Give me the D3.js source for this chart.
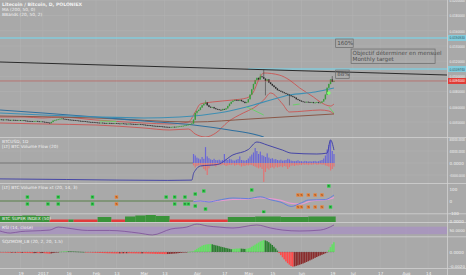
<!DOCTYPE html>
<html><head><meta charset="utf-8">
<script src="https://cdn.jsdelivr.net/npm/d3@7"></script>
<style>
body{margin:0;background:#a9a9a9;overflow:hidden}
svg{display:block;font-family:"DejaVu Sans",sans-serif}
</style></head><body>
<svg id="chart" width="466" height="275"></svg>
<script>
const parse = d3.timeParse("%Y-%m-%d");
const firstDay = "2016-12-07";

// LTC/BTC daily closes
const closeDec = [0.00432,0.00430,0.00428,0.00431,0.00429,0.00426,0.00424,0.00427,0.00425,0.00423,0.00420,0.00422,0.00419,0.00421,0.00418,0.00415,0.00412,0.00410,0.00408,0.00405,0.00409,0.00411,0.00407,0.00404,0.00406];
const closeJan = [0.00402,0.00398,0.00395,0.00390,0.00385,0.00400,0.00418,0.00425,0.00430,0.00436,0.00442,0.00445,0.00440,0.00436,0.00432,0.00430,0.00428,0.00425,0.00422,0.00420,0.00418,0.00415,0.00412,0.00410,0.00408,0.00405,0.00403,0.00400,0.00398,0.00396,0.00394];
const closeFeb = [0.00392,0.00390,0.00388,0.00390,0.00387,0.00385,0.00383,0.00386,0.00384,0.00382,0.00380,0.00383,0.00381,0.00379,0.00377,0.00380,0.00378,0.00376,0.00374,0.00377,0.00375,0.00373,0.00371,0.00369,0.00367,0.00370,0.00368,0.00366];
const closeMar = [0.00363,0.00360,0.00357,0.00355,0.00352,0.00350,0.00348,0.00346,0.00344,0.00342,0.00340,0.00338,0.00336,0.00335,0.00333,0.00332,0.00334,0.00336,0.00335,0.00337,0.00340,0.00343,0.00346,0.00350,0.00355,0.00360,0.00366,0.00372,0.00380,0.00430,0.00520];
const closeApr = [0.00545,0.00560,0.00590,0.00620,0.00640,0.00655,0.00620,0.00600,0.00590,0.00595,0.00580,0.00570,0.00565,0.00560,0.00555,0.00570,0.00565,0.00580,0.00610,0.00640,0.00665,0.00680,0.00690,0.00685,0.00680,0.00690,0.00675,0.00665,0.00650,0.00660];
const closeMay = [0.00700,0.00760,0.00830,0.00900,0.00950,0.00980,0.00960,0.01000,0.00990,0.00970,0.00940,0.00960,0.00920,0.00900,0.00880,0.00860,0.00840,0.00820,0.00810,0.00800,0.00790,0.00780,0.00770,0.00760,0.00750,0.00740,0.00730,0.00720,0.00700,0.00690,0.00680];
const closeJun = [0.00670,0.00665,0.00660,0.00665,0.00660,0.00655,0.00660,0.00650,0.00655,0.00660,0.00650,0.00655,0.00670,0.00700,0.00760,0.00850,0.00900,0.00960,0.00930,0.00940];
const wickHigh = [["2017-04-06",0.00680],["2017-05-08",0.01030],["2017-05-10",0.01084],["2017-06-19",0.01000]];
const wickLow = [["2017-04-01",0.00500],["2017-05-11",0.00755],["2017-05-25",0.00624]];

// overlays on the price pane
const maLow = [["2016-12-07",0.005579],["2017-01-01",0.005184],["2017-02-01",0.004658],["2017-03-01",0.004132],["2017-03-30",0.003605],["2017-04-20",0.002947],["2017-05-06",0.00229],["2017-05-10",0.002026]];
const maMid = [["2016-12-07",0.005184],["2017-01-01",0.004921],["2017-02-01",0.004658],["2017-03-01",0.004526],["2017-03-22",0.004658],["2017-03-30",0.004789],["2017-04-09",0.005053],["2017-04-20",0.005447],["2017-05-04",0.006237],["2017-05-14",0.006895],["2017-05-25",0.007553],["2017-06-09",0.007947],["2017-06-20",0.008474]];
const maBrown = [["2016-12-07",0.004789],["2017-02-01",0.004526],["2017-03-30",0.004000],["2017-05-02",0.004395],["2017-05-31",0.004789],["2017-06-20",0.005053]];
const bbUpper = [["2016-12-07",0.004658],["2016-12-21",0.004658],["2017-01-01",0.004526],["2017-01-11",0.004658],["2017-02-01",0.004263],["2017-03-01",0.003868],["2017-03-16",0.003737],["2017-03-27",0.004000],["2017-03-31",0.005316],["2017-04-03",0.006368],["2017-04-10",0.006632],["2017-04-22",0.006895],["2017-04-30",0.007158],["2017-05-04",0.007947],["2017-05-07",0.009526],["2017-05-10",0.010447],["2017-05-19",0.010184],["2017-05-25",0.009526],["2017-05-31",0.008474],["2017-06-08",0.007289],["2017-06-12",0.006632],["2017-06-18",0.006105],["2017-06-20",0.006368]];
const bbLower = [["2016-12-07",0.003868],["2017-01-01",0.003737],["2017-02-01",0.003605],["2017-03-01",0.003211],["2017-03-16",0.002947],["2017-03-27",0.003079],["2017-03-31",0.002421],["2017-04-06",0.002026],["2017-04-12",0.002553],["2017-04-19",0.004000],["2017-04-28",0.005184],["2017-05-04",0.005842],["2017-05-10",0.006895],["2017-05-14",0.007816],["2017-05-21",0.006368],["2017-05-25",0.005316],["2017-06-03",0.005447],["2017-06-12",0.005579],["2017-06-17",0.005447],["2017-06-20",0.005053]];
const greenStops = [
  [["2017-02-03",0.004132],["2017-02-13",0.004066]],
  [["2017-04-30",0.005974],["2017-05-04",0.005579],["2017-05-10",0.004921]],
  [["2017-05-27",0.006237],["2017-05-31",0.006368]],
  [["2017-06-17",0.005974],["2017-06-20",0.005184]]];
const signalDot = ["2017-06-17",0.007816];

// drawings
const target160 = 0.015053;
const target88 = 0.010974;
const target88From = "2017-05-01";
const trendLine = [["2016-12-07",0.011895],["2017-08-25",0.010184]];

// Volume flow (thousands)
const flowFrom = "2017-03-30";
const flowBuy = [30,25,18,15,12,20,14,53,22,16,12,10,14,10,9,11,8,10,30,12,10,14,12,9,8,11,13,22,10,9,8,10,
  15,22,28,35,50,40,30,38,26,24,20,32,18,14,16,12,13,10,9,11,8,9,10,14,12,8,7,6,7,9,6,
  6,5,7,6,5,6,5,6,7,5,6,8,10,15,25,45,60,75,40,30];
const flowSell = [-8,-15,-10,-8,-6,-12,-20,-25,-40,-18,-10,-8,-9,-12,-7,-6,-8,-5,-7,-10,-8,-6,-7,-5,-9,-7,-6,-8,-12,-9,-10,-7,
  -8,-6,-7,-10,-12,-15,-18,-14,-20,-63,-30,-18,-22,-16,-14,-18,-12,-15,-13,-11,-14,-10,-12,-20,-14,-9,-8,-10,-7,-8,-6,
  -7,-5,-6,-5,-7,-5,-6,-5,-4,-6,-5,-4,-6,-5,-8,-10,-12,-25,-20,-12];
const flowLine = [["2016-12-07",-53],["2017-01-15",-55],["2017-02-15",-57],["2017-03-15",-58],["2017-03-29",-57],["2017-03-30",-35],["2017-03-31",-25],["2017-04-03",-10],["2017-04-13",-5],["2017-04-22",27],["2017-05-01",45],["2017-05-06",70],["2017-05-12",60],["2017-05-21",43],["2017-05-26",33],["2017-06-10",30],["2017-06-16",33],["2017-06-18",77],["2017-06-20",43]];

// Volume flow oscillator
const oscFast = [["2017-03-30",-5],["2017-04-03",0],["2017-04-08",-8],["2017-04-13",5],["2017-04-22",25],["2017-05-01",20],["2017-05-08",35],["2017-05-14",10],["2017-05-20",-10],["2017-05-26",-45],["2017-06-01",-15],["2017-06-05",8],["2017-06-10",10],["2017-06-15",12],["2017-06-18",30],["2017-06-20",50]];
const oscSlow = [["2017-03-30",0],["2017-04-03",-2],["2017-04-08",-4],["2017-04-13",0],["2017-04-22",12],["2017-05-01",18],["2017-05-08",25],["2017-05-14",20],["2017-05-20",5],["2017-05-26",-20],["2017-06-01",-25],["2017-06-05",-5],["2017-06-10",5],["2017-06-15",10],["2017-06-18",18],["2017-06-20",30]];
const oscSignals = [["2016-12-23",33,"B"],["2016-12-23",-25,"B"],["2017-01-04",-25,"B"],["2017-01-10",33,"B"],["2017-01-10",-25,"B"],["2017-01-30",33,"B"],["2017-01-30",-25,"B"],["2017-02-13",33,"S"],["2017-02-13",-25,"S"],["2017-03-14",33,"B"],["2017-03-19",33,"B"],["2017-03-19",-25,"B"],["2017-03-25",33,"B"],["2017-03-25",-25,"B"],["2017-03-27",-25,"B"],["2017-03-31",58,"B"],["2017-03-31",-42,"B"],["2017-04-05",83,"B"],["2017-04-06",-67,"B"],["2017-05-03",92,"B"],["2017-05-10",-92,"B"],
  ["2017-05-30",50,"S"],["2017-06-01",50,"S"],["2017-06-05",50,"S"],["2017-06-09",50,"S"],["2017-06-13",50,"S"],
  ["2017-05-30",-50,"S"],["2017-06-01",-50,"S"],["2017-06-05",-50,"S"],["2017-06-09",-50,"S"],["2017-06-13",-50,"S"],
  ["2017-06-17",125,"B"],["2017-06-18",-50,"B"]];

// BTC super index (step values, sign = colour)
const superIndex = [["2016-12-07",6],["2016-12-20",6.5],["2016-12-28",6],["2017-01-05",-2.5],["2017-01-16",2.5],["2017-01-19",-2.5],["2017-02-02",5],["2017-02-10",-2.5],["2017-02-18",5.5],["2017-02-24",6.5],["2017-03-02",7],["2017-03-08",6],["2017-03-16",-2.5],["2017-04-19",5],["2017-05-05",5.5],["2017-05-20",5],["2017-06-05",5.5],["2017-06-21",5.5]];

// RSI
const rsi = [["2016-12-07",47],["2016-12-13",36],["2016-12-19",44],["2016-12-25",47],["2017-01-05",52],["2017-01-10",68],["2017-01-15",63],["2017-01-27",50],["2017-02-09",50],["2017-02-26",36],["2017-03-06",26],["2017-03-17",58],["2017-03-26",68],["2017-04-01",84],["2017-04-07",74],["2017-04-14",68],["2017-04-22",63],["2017-05-06",79],["2017-05-14",63],["2017-05-21",52],["2017-05-31",47],["2017-06-12",52],["2017-06-20",79]];

// Squeeze momentum, units of 0.0001
const sqzDec = [-0.5,-0.6,-0.7,-0.8,-0.9,-1,-1.1,-1,-1,-0.9,-1.1,-1.2,-1.3,-1.2,-1.3,-1.4,-1.5,-1.5,-1.6,-1.7,-1.6,-1.5,-1.6,-1.7,-1.6];
const sqzJan = [-1.5,-1.8,-2,-2.2,-2.4,-2,-1.5,-1,-0.6,-0.3,0.2,0.5,0.8,1,1.1,1,0.9,0.8,0.7,0.6,0.5,0.4,0.3,0.2,0.1,-0.1,-0.3,-0.5,-0.7,-0.9,-1];
const sqzFeb = [-1.1,-1.2,-1.3,-1.4,-1.5,-1.6,-1.7,-1.8,-1.8,-1.9,-2,-2,-2.1,-2.1,-2,-2,-1.9,-1.9,-1.8,-1.8,-1.8,-1.9,-1.9,-2,-2,-2.1,-2.1,-2];
const sqzMar = [-2,-2.1,-2.2,-2.3,-2.4,-2.5,-2.6,-2.7,-2.8,-2.8,-2.9,-2.9,-3,-3,-2.9,-2.8,-2.6,-2.4,-2.2,-2,-1.7,-1.4,-1.1,-0.8,-0.5,-0.2,0.1,0.4,0.8,1,3];
const sqzApr = [4.5,6,7.5,9,10,10.5,11,11.2,11.5,11,10.2,9.5,9,8.3,7.6,7,6.4,5.8,5.2,4.6,4,4.3,4.6,4.8,5,5.1,4.8,4.6,4.4,4.7];
const sqzMay = [5.2,6,7.5,9,10.5,12,13.5,15,16,17,16.5,15.5,14,12,10,7.5,5,2,-1.5,-4.5,-7.5,-10.5,-13.5,-16,-18,-20,-21,-20.5,-19.8,-19,-18.2];
const sqzJun = [-17.3,-16.4,-15.4,-14.3,-13.2,-12,-10.8,-9.6,-8.4,-7.2,-6,-5,-4,-3,-1.8,-0.5,3,7,11,14];

const priceTicks = [0.004,0.006,0.008,0.010,0.012,0.014,0.016,0.018,0.020];
const flowTicks = [80,40,0,-40];
const oscTicks = [100,0,-100];
const sqzTicks = [0,-20];
const timeTicks = [["2016-12-19","19"],["2017-01-01","2017"],["2017-01-16","16"],["2017-02-01","Feb"],["2017-02-13","13"],["2017-03-01","Mar"],["2017-03-13","13"],["2017-04-01","Apr"],["2017-04-17","17"],["2017-05-01","May"],["2017-05-15","15"],["2017-06-01","Jun"],["2017-06-19","19"],["2017-07-01","Jul"],["2017-07-17","17"],["2017-08-01","Aug"],["2017-08-14","14"]];

// ---------------------------------------------------------------
const svg = d3.select("#chart");
const plotR = 447, txt = "#f2f2f2", grid = "#b2b2b2";
const start = parse(firstDay);
const pts = a => a.map(d => [parse(d[0]), d[1]]);

const x = d3.scaleTime().domain([parse("2016-12-07"), parse("2017-08-25")]).range([0, plotR]);
const dayW = x(d3.timeDay.offset(start, 1)) - x(start);
const y1 = d3.scaleLinear().domain([0.004, 0.020]).range([122, 0.4]);
const y2 = d3.scaleLinear().domain([0, 40]).range([163, 151]);
const y3 = d3.scaleLinear().domain([100, -100]).range([189, 213]);
const y4 = d3.scaleLinear().domain([0, 8]).range([222, 214]);
const y5 = d3.scaleLinear().domain([15, 86]).range([237, 223.7]);
const y6 = d3.scaleLinear().domain([0, -20]).range([252, 266]);

const panes = [[0,137],[138,183],[184,213.5],[214,222],[223,236.5],[237,268]];
const defs = svg.append("defs");
panes.forEach((p, i) => defs.append("clipPath").attr("id", "p" + i)
  .append("rect").attr("x", 0).attr("y", p[0]).attr("width", plotR).attr("height", p[1] - p[0]));
const pane = i => svg.append("g").attr("clip-path", "url(#p" + i + ")");

// grid
const gridG = svg.append("g").attr("stroke", grid).attr("stroke-width", 0.6);
gridG.selectAll(".v").data(timeTicks).enter().append("line")
  .attr("x1", d => x(parse(d[0]))).attr("x2", d => x(parse(d[0])))
  .attr("y1", 0).attr("y2", 268);
gridG.selectAll(".h").data(priceTicks).enter().append("line")
  .attr("x1", 0).attr("x2", plotR).attr("y1", d => y1(d)).attr("y2", d => y1(d));
gridG.selectAll(".h2").data(flowTicks).enter().append("line")
  .attr("x1", 0).attr("x2", plotR).attr("y1", d => y2(d)).attr("y2", d => y2(d));

// ---- price pane
const g1 = pane(0);
const line1 = d3.line().x(d => x(d[0])).y(d => y1(d[1])).curve(d3.curveMonotoneX);
g1.append("line").attr("x1", 0).attr("x2", plotR).attr("y1", y1(target160)).attr("y2", y1(target160))
  .attr("stroke", "#84cbdb").attr("stroke-width", 1.6);
g1.append("line").attr("x1", x(parse(target88From))).attr("x2", plotR).attr("y1", y1(target88)).attr("y2", y1(target88))
  .attr("stroke", "#84cbdb").attr("stroke-width", 1.6);
g1.append("path").datum(pts(trendLine)).attr("d", d3.line().x(d => x(d[0])).y(d => y1(d[1])))
  .attr("stroke", "#2b2b2b").attr("stroke-width", 1).attr("fill", "none");

const closes = [].concat(closeDec, closeJan, closeFeb, closeMar, closeApr, closeMay, closeJun);
const hiMap = new Map(wickHigh), loMap = new Map(wickLow);
const fmtDay = d3.timeFormat("%Y-%m-%d");
const bars = closes.map((c, i) => {
  const date = d3.timeDay.offset(start, i), open = i ? closes[i - 1] : c, k = fmtDay(date);
  return {date, open, close: c,
    high: Math.max(open, c, hiMap.get(k) || 0),
    low: Math.min(open, c, loMap.get(k) || 1)};
});
g1.append("path").datum(pts(bbUpper)).attr("d", line1).attr("stroke", "#cf4a48").attr("stroke-width", 0.8).attr("fill", "none");
g1.append("path").datum(pts(bbLower)).attr("d", line1).attr("stroke", "#cf4a48").attr("stroke-width", 0.8).attr("fill", "none");
g1.append("path").datum(pts(maBrown)).attr("d", line1).attr("stroke", "#8a5848").attr("stroke-width", 1).attr("fill", "none");
g1.append("path").datum(pts(maLow)).attr("d", line1).attr("stroke", "#2f6f9e").attr("stroke-width", 1.1).attr("fill", "none");
g1.append("path").datum(pts(maMid)).attr("d", line1).attr("stroke", "#3e8fb3").attr("stroke-width", 1.2).attr("fill", "none");
greenStops.forEach(s => g1.append("path").datum(pts(s)).attr("d", line1)
  .attr("stroke", "#62d262").attr("stroke-width", 0.9).attr("fill", "none"));

const cg = g1.selectAll(".bar").data(bars).enter().append("g");
const col = d => d.close >= d.open ? "#3a9c3c" : "#2a2a2a";
cg.append("line").attr("x1", d => x(d.date)).attr("x2", d => x(d.date))
  .attr("y1", d => y1(d.high) - 0.4).attr("y2", d => y1(d.low) + 0.4).attr("stroke", col).attr("stroke-width", 0.5);
cg.append("rect").attr("x", d => x(d.date) - 0.7).attr("width", 1.4)
  .attr("y", d => y1(Math.max(d.open, d.close)))
  .attr("height", d => Math.max(0.6, Math.abs(y1(d.open) - y1(d.close)))).attr("fill", col);
g1.append("circle").attr("cx", x(parse(signalDot[0]))).attr("cy", y1(signalDot[1])).attr("r", 1.8).attr("fill", "#7dff6a");

const last = bars[bars.length - 1].close;
g1.append("line").attr("x1", 0).attr("x2", plotR).attr("y1", y1(last)).attr("y2", y1(last))
  .attr("stroke", "#c0504c").attr("stroke-width", 0.6);

// text notes
function note(date, price, lines, w) {
  const gx = x(parse(date)), gy = y1(price);
  const h = lines.length * 6 + 2.5;
  svg.append("rect").attr("x", gx).attr("y", gy).attr("width", w).attr("height", h)
    .attr("fill", "none").attr("stroke", "#6a6a6a").attr("stroke-width", 0.7);
  lines.forEach((t, i) => svg.append("text").attr("x", gx + 1.5).attr("y", gy + 6 + i * 6)
    .attr("fill", "#4e4e4e").style("font-size", "5.6px").text(t));
}
note("2017-06-21", 0.01492, ["160%"], 17.5);
note("2017-06-30", 0.01360, ["Objectif déterminer en mensuel", "Monthly target"], 84);
note("2017-06-21", 0.01084, ["88%"], 13.5);

const legend = ["Litecoin / Bitcoin, D, POLONIEX", "MA (200, 50, 0)", "BBands (20, 50, 2)"];
svg.selectAll(".lg").data(legend).enter().append("text")
  .attr("x", 2).attr("y", (d, i) => 6 + i * 5).attr("fill", txt)
  .style("font-size", (d, i) => i ? "4.3px" : "4.6px").style("font-weight", (d, i) => i ? "normal" : "bold").text(d => d);

// ---- volume flow
const g2 = pane(1);
const flowStart = parse(flowFrom);
const flowRows = flowBuy.map((b, i) => ({date: d3.timeDay.offset(flowStart, i), buy: b, sell: flowSell[i]}));
g2.append("line").attr("x1", 0).attr("x2", x(flowStart)).attr("y1", y2(0)).attr("y2", y2(0))
  .attr("stroke", "#6e6e6e").attr("stroke-width", 0.9);
g2.selectAll(".vb").data(flowRows).enter().append("rect")
  .attr("x", d => x(d.date) - 0.6).attr("width", 1.2)
  .attr("y", d => y2(d.buy)).attr("height", d => y2(0) - y2(d.buy)).attr("fill", "#6a67d6");
g2.selectAll(".vs").data(flowRows).enter().append("rect")
  .attr("x", d => x(d.date) - 0.6).attr("width", 1.2)
  .attr("y", y2(0)).attr("height", d => y2(d.sell) - y2(0)).attr("fill", "#e27474");
g2.append("path").datum(pts(flowLine))
  .attr("d", d3.line().x(d => x(d[0])).y(d => y2(d[1])).curve(d3.curveMonotoneX))
  .attr("stroke", "#3b3ba6").attr("stroke-width", 0.9).attr("fill", "none");
svg.append("text").attr("x", 2).attr("y", 142.5).attr("fill", txt).style("font-size", "4.3px").text("BTCUSD, 1D");
svg.append("text").attr("x", 2).attr("y", 147.5).attr("fill", txt).style("font-size", "4.3px").text("[LT] BTC Volume Flow (20)");

// ---- volume flow oscillator
const g3 = pane(2);
const line3 = d3.line().x(d => x(d[0])).y(d => y3(d[1])).curve(d3.curveMonotoneX);
g3.append("line").attr("x1", 0).attr("x2", x(flowStart)).attr("y1", y3(0)).attr("y2", y3(0))
  .attr("stroke", "#4f7a3c").attr("stroke-width", 0.9);
g3.append("path").datum(pts(oscSlow)).attr("d", line3).attr("stroke", "#e79ad2").attr("stroke-width", 1.1).attr("fill", "none");
g3.append("path").datum(pts(oscFast)).attr("d", line3).attr("stroke", "#5a7be0").attr("stroke-width", 0.9).attr("fill", "none");
const sg = g3.selectAll(".sg").data(oscSignals).enter().append("g")
  .attr("transform", d => "translate(" + x(parse(d[0])) + "," + y3(d[1]) + ")");
sg.append("rect").attr("x", -1.7).attr("y", -1.7).attr("width", 3.4).attr("height", 3.4)
  .attr("fill", d => d[2] === "B" ? "#2fd04a" : "#e8843c");
sg.append("text").attr("text-anchor", "middle").attr("y", 1.1).style("font-size", "2.8px")
  .attr("fill", d => d[2] === "B" ? "#145a1e" : "#7a3a10").text(d => d[2]);
svg.append("text").attr("x", 2).attr("y", 189).attr("fill", txt).style("font-size", "4.3px").text("[LT] BTC Volume Flow xt (20, 14, 3)");

// ---- super index
const g4 = pane(3);
const siPts = pts(superIndex);
siPts.slice(0, -1).forEach((d, i) => {
  const x0 = x(d[0]), x1 = x(siPts[i + 1][0]);
  g4.append("rect").attr("x", x0).attr("width", x1 - x0).attr("y", y4(Math.abs(d[1])))
    .attr("height", y4(0) - y4(Math.abs(d[1]))).attr("fill", d[1] > 0 ? "#3a933a" : "#e23b3b");
});
svg.append("text").attr("x", 2).attr("y", 220.3).attr("fill", txt).style("font-size", "4.3px").text("BTC SUPER INDEX (50)");

// ---- RSI
const g5 = pane(4);
g5.append("rect").attr("x", 0).attr("width", plotR).attr("y", y5(70)).attr("height", y5(30) - y5(70))
  .attr("fill", "#a894bf").attr("opacity", 0.85);
g5.append("path").datum(pts(rsi)).attr("d", d3.line().x(d => x(d[0])).y(d => y5(d[1])).curve(d3.curveMonotoneX))
  .attr("stroke", "#7d4f99").attr("stroke-width", 0.8).attr("fill", "none");
svg.append("text").attr("x", 2).attr("y", 228.5).attr("fill", txt).style("font-size", "4.3px").text("RSI (14, close)");

// ---- squeeze momentum
const g6 = pane(5);
const sqz = [].concat(sqzDec, sqzJan, sqzFeb, sqzMar, sqzApr, sqzMay, sqzJun);
const sqzRows = sqz.map((v, i) => ({date: d3.timeDay.offset(start, i), v, prev: i ? sqz[i - 1] : v}));
const sqzCol = d => d.v >= 0 ? (d.v >= d.prev ? "#63e063" : "#2c7f30") : (d.v <= d.prev ? "#ff4a4a" : "#8a2c2c");
g6.selectAll(".sq").data(sqzRows).enter().append("rect")
  .attr("x", d => x(d.date) - dayW / 2).attr("width", dayW * 0.9)
  .attr("y", d => Math.min(y6(d.v), y6(0))).attr("height", d => Math.max(0.5, Math.abs(y6(d.v) - y6(0))))
  .attr("fill", sqzCol);
g6.append("line").attr("x1", 0).attr("x2", x(sqzRows[sqzRows.length - 1].date)).attr("y1", y6(0)).attr("y2", y6(0))
  .attr("stroke", "#6a6a6a").attr("stroke-width", 0.5).attr("stroke-dasharray", "0.8,0.9");
svg.append("text").attr("x", 2).attr("y", 242.5).attr("fill", txt).style("font-size", "4.3px").text("SQZMOM_LB (20, 2, 20, 1.5)");

// ---- separators
svg.selectAll(".sep").data([137.5, 183.5, 213.8, 222.5, 236.8, 268.5]).enter().append("line")
  .attr("x1", 0).attr("x2", 466).attr("y1", d => d).attr("y2", d => d)
  .attr("stroke", "#d2d2d2").attr("stroke-width", 0.8);
svg.append("line").attr("x1", plotR + 0.5).attr("x2", plotR + 0.5).attr("y1", 0).attr("y2", 275)
  .attr("stroke", "#d2d2d2").attr("stroke-width", 0.8);

// ---- axes; scale labels are squeezed horizontally into the narrow strip
const room = 466 - plotR - 3.5;
function tidy(g) {
  g.select(".domain").remove();
  g.selectAll("text").attr("fill", txt).style("font-size", "4.1px").style("font-family", "DejaVu Sans");
}
function squeeze(sel, x0) {
  sel.each(function () {
    const w = this.getComputedTextLength();
    const s = Math.min(1, room / w);
    d3.select(this).attr("x", null).attr("dx", null)
      .attr("transform", "translate(" + x0 + ",0) scale(" + s + ",1)");
  });
}
const fmt7 = d3.format(".7f");
const rightAxis = (scale, ticks, f) => svg.append("g").attr("transform", "translate(" + plotR + ",0)")
  .call(d3.axisRight(scale).tickValues(ticks).tickSize(0).tickPadding(2.5).tickFormat(f)).call(tidy)
  .call(g => squeeze(g.selectAll("text"), 2.5));
rightAxis(y1, priceTicks, fmt7);
rightAxis(y2, flowTicks, v => (v * 1000).toFixed(4));
rightAxis(y3, oscTicks, v => String(v));
rightAxis(y4, [0.7], () => "0.0000");
rightAxis(y5, [50], v => v.toFixed(4));
rightAxis(y6, sqzTicks, v => (v * 1e-4).toFixed(4));

const tickMap = new Map(timeTicks.map(d => [+parse(d[0]), d[1]]));
svg.append("g").attr("transform", "translate(0,269)")
  .call(d3.axisBottom(x).tickValues(timeTicks.map(d => parse(d[0]))).tickSize(0).tickPadding(3)
    .tickFormat(d => tickMap.get(+d))).call(tidy);

// price labels on the scale
function tag(price, bg, fg) {
  const yy = y1(price);
  const g = svg.append("g").attr("transform", "translate(" + plotR + "," + yy + ")");
  g.append("rect").attr("x", 1).attr("y", -3).attr("width", 18).attr("height", 6).attr("fill", bg);
  g.append("text").attr("y", 1.5).attr("fill", fg).style("font-size", "4.1px").text(fmt7(price))
    .call(t => squeeze(t, 2.5));
}
tag(target160, "#84cbdb", "#2c5560");
tag(target88, "#84cbdb", "#2c5560");
tag(last, "#e23b35", "#ffffff");
</script>
</body></html>
